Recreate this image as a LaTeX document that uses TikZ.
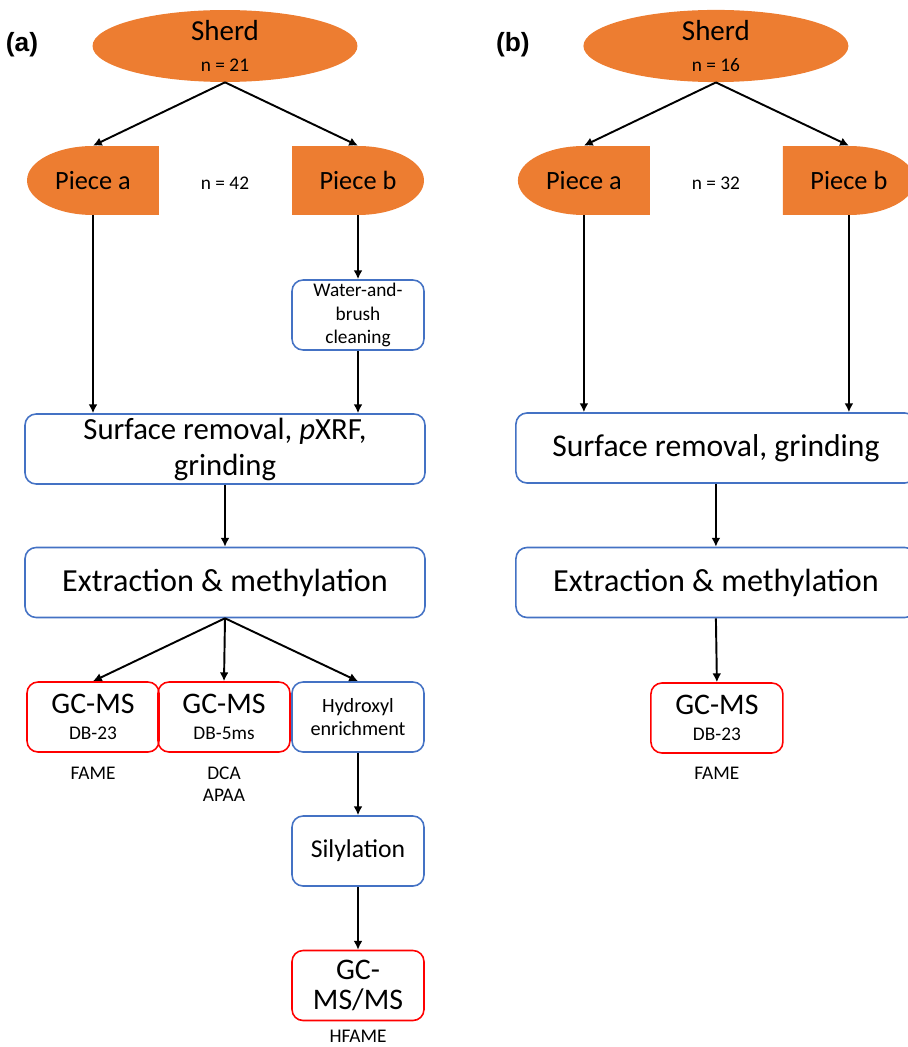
\documentclass[tikz,border=0pt]{standalone}
\usepackage{fontspec}
\setmainfont{Carlito}
\newfontfamily\panelfont{Liberation Sans}
\usetikzlibrary{shapes,arrows.meta,positioning}

\definecolor{sherdorange}{HTML}{ED7D31}
\definecolor{stepblue}{HTML}{4472C4}
\definecolor{gcred}{HTML}{FF0000}

\newcommand{\bigtxt}{\fontsize{17.5}{20.5}\selectfont}
\newcommand{\midtxt}{\fontsize{15}{17}\selectfont}
\newcommand{\smalltxt}{\fontsize{11}{13}\selectfont}

\tikzset{
  arr/.style={line width=1.1pt, -{Latex[length=5pt,width=5pt]}},
  sherd/.style={ellipse, fill=sherdorange, minimum width=5.3cm, minimum height=1.38cm,
    inner sep=0pt, align=center, font=\fontsize{16.5}{17.5}\selectfont},
  piece/.style={minimum width=2.64cm, minimum height=1.38cm, inner sep=0pt, font=\midtxt},
  piecea/.style={piece, path picture={
    \fill[sherdorange] (path picture bounding box.north) -- (path picture bounding box.north east)
      -- (path picture bounding box.south east) -- (path picture bounding box.south)
      arc[start angle=270, end angle=90, x radius=1.32cm, y radius=0.69cm] -- cycle;}},
  pieceb/.style={piece, path picture={
    \fill[sherdorange] (path picture bounding box.north) -- (path picture bounding box.north west)
      -- (path picture bounding box.south west) -- (path picture bounding box.south)
      arc[start angle=-90, end angle=90, x radius=1.32cm, y radius=0.69cm] -- cycle;}},
  proc/.style={draw=stepblue, line width=0.9pt, rounded corners=0.22cm, minimum width=2.64cm,
    minimum height=1.4cm, inner sep=1pt, align=center},
  wide/.style={proc, minimum width=8cm, font=\bigtxt},
  gc/.style={proc, draw=gcred, font=\fontsize{17}{15}\selectfont},
  note/.style={font=\smalltxt, align=center},
  panel/.style={font=\panelfont\bfseries\fontsize{15}{17}\selectfont}
}

\begin{document}
\begin{tikzpicture}[x=0.02cm, y=-0.02cm]
    \useasboundingbox (0,0) rectangle (908,1047);

    % (a) with pXRF and GC-MS/MS
    \node[panel] (lblA) at (22,45) {(a)};
    \node[sherd] (sherdA) at (225,46) {Sherd\\{\smalltxt n = 21}};
    \node[piecea] (pa) at (93,180.5) {Piece a};
    \node[pieceb] (pb) at (358,180.5) {Piece b};
    \node[note] (nA) at (225,183) {n = 42};
    \node[proc, font=\fontsize{11}{13.3}\selectfont] (wash) at (358,315) {Water-and-\\brush\\cleaning};
    \node[wide] (surfA) at (225,449) {Surface removal, \textit{p}XRF,\\grinding};
    \node[wide, font=\fontsize{18.3}{20}\selectfont] (extA) at (225,582.5) {Extraction \& methylation};
    \node[gc] (gcA) at (93,717) {GC-MS\\{\smalltxt DB-23}};
    \node[gc] (gcB) at (224,717) {GC-MS\\{\smalltxt DB-5ms}};
    \node[proc, font=\fontsize{11.5}{13}\selectfont] (hyd) at (358,717) {Hydroxyl\\enrichment};
    \node[proc, font=\fontsize{14.6}{17}\selectfont] (sil) at (358,851) {Silylation};
    \node[gc, font=\fontsize{17}{17}\selectfont] (msms) at (358,985.5) {GC-\\MS/MS};
    \node[note] (fameA) at (93,773) {FAME};
    \node[note, font=\fontsize{11}{12.5}\selectfont] (dca) at (224,784) {DCA\\APAA};
    \node[note] (hfame) at (358,1036) {HFAME};

    \draw[arr] (sherdA.south) -- (pa.north);
    \draw[arr] (sherdA.south) -- (pb.north);
    \draw[arr] (pa.south) -- (pa.south |- surfA.north);
    \draw[arr] (pb.south) -- (wash.north);
    \draw[arr] (wash.south) -- (wash.south |- surfA.north);
    \draw[arr] (surfA.south) -- (extA.north);
    \draw[arr] (extA.south) -- (gcA.north);
    \draw[arr] (extA.south) -- (gcB.north);
    \draw[arr] (extA.south) -- (hyd.north);
    \draw[arr] (hyd.south) -- (sil.north);
    \draw[arr] (sil.south) -- (msms.north);

    % (b) GC-MS only
    \begin{scope}[xshift=9.82cm]
        \node[panel] (lblB) at (22,45) {(b)};
        \node[sherd] (sherdB) at (225,46) {Sherd\\{\smalltxt n = 16}};
        \node[piecea] (qa) at (93,180.5) {Piece a};
        \node[pieceb] (qb) at (358,180.5) {Piece b};
        \node[note] (nB) at (225,183) {n = 32};
        \node[wide, font=\fontsize{18}{20}\selectfont] (surfB) at (225,448) {Surface removal, grinding};
        \node[wide, font=\fontsize{18.3}{20}\selectfont] (extB) at (225,582.5) {Extraction \& methylation};
        \node[gc] (gcC) at (226,718) {GC-MS\\{\smalltxt DB-23}};
        \node[note] (fameB) at (226,773) {FAME};

        \draw[arr] (sherdB.south) -- (qa.north);
        \draw[arr] (sherdB.south) -- (qb.north);
        \draw[arr] (qa.south) -- (qa.south |- surfB.north);
        \draw[arr] (qb.south) -- (qb.south |- surfB.north);
        \draw[arr] (surfB.south) -- (extB.north);
        \draw[arr] (extB.south) -- (gcC.north);
    \end{scope}
\end{tikzpicture}
\end{document}
